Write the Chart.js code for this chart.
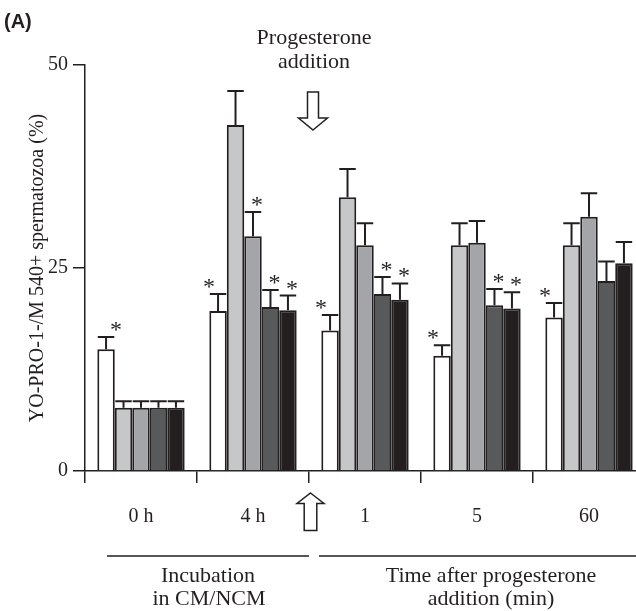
<!DOCTYPE html>
<html><head><meta charset="utf-8">
<script src="https://cdn.jsdelivr.net/npm/chart.js@4/dist/chart.umd.min.js"></script>
<style>
html,body{margin:0;padding:0;background:#fff;overflow:hidden;}
#wrap{position:relative;width:636px;height:611px;overflow:hidden;background:#fff;}
#wrap canvas{position:absolute;left:0;top:0;}
</style></head><body>
<div id="wrap"><canvas id="c" width="660" height="611" style="width:660px;height:611px"></canvas></div>
<script>
// ---- data ----
const categories = ['0 h', '4 h', '1', '5', '60'];
const seriesNames = ['Group 1', 'Group 2', 'Group 3', 'Group 4', 'Group 5'];
const whiteValues = [15.0, 19.7, 17.3, 14.2, 18.9];
const whiteErrors = [1.5, 2.1, 1.9, 1.3, 1.8];
const lightValues = [7.8, 42.6, 33.7, 27.8, 27.8];
const lightErrors = [0.8, 4.2, 3.5, 2.7, 2.7];
const midValues = [7.8, 28.9, 27.8, 28.1, 31.3];
const midErrors = [0.8, 3.0, 2.7, 2.7, 2.9];
const darkValues = [7.8, 20.2, 21.8, 20.4, 23.4];
const darkErrors = [0.8, 2.1, 2.1, 2.0, 2.4];
const blackValues = [7.8, 19.8, 21.1, 20.0, 25.6];
const blackErrors = [0.8, 1.8, 2.0, 2.0, 2.6];
// significance markers (*)
const whiteSig = [1, 1, 1, 1, 1];
const lightSig = [0, 0, 0, 0, 0];
const midSig = [0, 1, 0, 0, 0];
const darkSig = [0, 1, 1, 1, 0];
const blackSig = [0, 1, 1, 1, 0];
const yTicks = [0, 25, 50];

const INK = '#231f20';
const SERIF = '"Liberation Serif", "Times New Roman", serif';
const fills = ['#ffffff', '#c6c7c9', '#a4a5a8', '#58595b', '#231f20'];

const allValues = [whiteValues, lightValues, midValues, darkValues, blackValues];
const allErrors = [whiteErrors, lightErrors, midErrors, darkErrors, blackErrors];
const allSig = [whiteSig, lightSig, midSig, darkSig, blackSig];

const datasets = allValues.map((vals, i) => ({
  label: seriesNames[i],
  data: vals,
  errors: allErrors[i],
  sig: allSig[i],
  backgroundColor: fills[i],
  borderColor: INK,
  borderWidth: 2,
  borderSkipped: 'bottom',
  categoryPercentage: 0.78,
  barPercentage: 1.0
}));

const errPlugin = {
  id: 'errbars',
  afterDatasetsDraw(chart) {
    const ctx = chart.ctx;
    const ys = chart.scales.y;
    chart.data.datasets.forEach((ds, i) => {
      const meta = chart.getDatasetMeta(i);
      meta.data.forEach((bar, j) => {
        const p = bar.getProps(['x', 'y', 'width'], true);
        const top = ys.getPixelForValue(ds.data[j] + ds.errors[j]);
        const half = p.width / 2;
        ctx.save();
        ctx.strokeStyle = INK;
        ctx.lineWidth = 2;
        ctx.beginPath();
        ctx.moveTo(p.x, p.y);
        ctx.lineTo(p.x, top);
        ctx.moveTo(p.x - half + 0.5, top);
        ctx.lineTo(p.x + half - 0.5, top);
        ctx.stroke();
        if (ds.sig[j]) {
          ctx.fillStyle = INK;
          ctx.font = '24px ' + SERIF;
          ctx.textAlign = 'center';
          ctx.textBaseline = 'alphabetic';
          const dx = i === 0 ? (j === 0 ? 10 : -9) : 4;
          ctx.fillText('*', p.x + dx, top);
        }
        ctx.restore();
      });
    });
  }
};

function hollowArrow(ctx, cx, tipY, baseY, endY, headHalf, shaftHalf) {
  ctx.save();
  ctx.beginPath();
  ctx.moveTo(cx, tipY);
  ctx.lineTo(cx + headHalf, baseY);
  ctx.lineTo(cx + shaftHalf, baseY);
  ctx.lineTo(cx + shaftHalf, endY);
  ctx.lineTo(cx - shaftHalf, endY);
  ctx.lineTo(cx - shaftHalf, baseY);
  ctx.lineTo(cx - headHalf, baseY);
  ctx.closePath();
  ctx.fillStyle = '#fff';
  ctx.fill();
  ctx.strokeStyle = INK;
  ctx.lineWidth = 1.5;
  ctx.stroke();
  ctx.restore();
}

const decoPlugin = {
  id: 'deco',
  afterDraw(chart) {
    const ctx = chart.ctx;
    const xs = chart.scales.x;
    const split = (xs.getPixelForValue(1) + xs.getPixelForValue(2)) / 2;
    hollowArrow(ctx, split + 4, 130, 118, 92, 14.5, 5.5);
    hollowArrow(ctx, split + 1.5, 493, 503.5, 530.5, 13.5, 6.3);
    ctx.save();
    ctx.fillStyle = INK;
    ctx.strokeStyle = INK;
    // panel label
    ctx.font = 'bold 20px "Liberation Sans", Arial, sans-serif';
    ctx.textAlign = 'left';
    ctx.textBaseline = 'middle';
    ctx.fillText('(A)', 4, 22);
    // top annotation
    ctx.font = '22px ' + SERIF;
    ctx.textAlign = 'center';
    ctx.fillText('Progesterone', split + 5, 38);
    ctx.fillText('addition', split + 5, 62);
    // bracket lines
    ctx.lineWidth = 1.5;
    ctx.beginPath();
    ctx.moveTo(107, 556); ctx.lineTo(split, 556);
    ctx.moveTo(split + 10, 556); ctx.lineTo(660, 556);
    ctx.stroke();
    ctx.fillText('Incubation', 208, 576);
    ctx.fillText('in CM/NCM', 209, 599);
    ctx.fillText('Time after progesterone', 491, 576);
    ctx.fillText('addition (min)', 491, 599);
    ctx.restore();
  }
};

new Chart(document.getElementById('c'), {
  type: 'bar',
  data: { labels: categories, datasets },
  plugins: [errPlugin, decoPlugin],
  options: {
    responsive: false,
    animation: false,
    devicePixelRatio: 1,
    layout: { padding: { top: 65, left: 0, right: 15, bottom: 0 } },
    plugins: { legend: { display: false }, tooltip: { enabled: false } },
    scales: {
      x: {
        offset: true,
        grid: { offset: true, drawOnChartArea: false, tickLength: 12, color: INK, lineWidth: 1.5 },
        border: { display: true, color: INK, width: 1.5 },
        ticks: { color: INK, font: { family: SERIF, size: 20 }, padding: 22, maxRotation: 0 },
        afterFit(s) { s.height = 140; }
      },
      y: {
        min: 0, max: 50,
        afterBuildTicks(s) { s.ticks = yTicks.map(v => ({ value: v })); },
        grid: { drawOnChartArea: false, tickLength: 12, color: INK, lineWidth: 1.5 },
        border: { display: true, color: INK, width: 1.5 },
        ticks: { color: INK, font: { family: SERIF, size: 20 }, padding: 5 },
        title: {
          display: true,
          text: 'YO-PRO-1-/M 540+ spermatozoa (%)',
          color: INK,
          font: { family: SERIF, size: 20 },
          padding: { top: 26, bottom: 0 }
        },
        afterFit(s) { s.width = 85; }
      }
    }
  }
});
</script>
</body></html>
